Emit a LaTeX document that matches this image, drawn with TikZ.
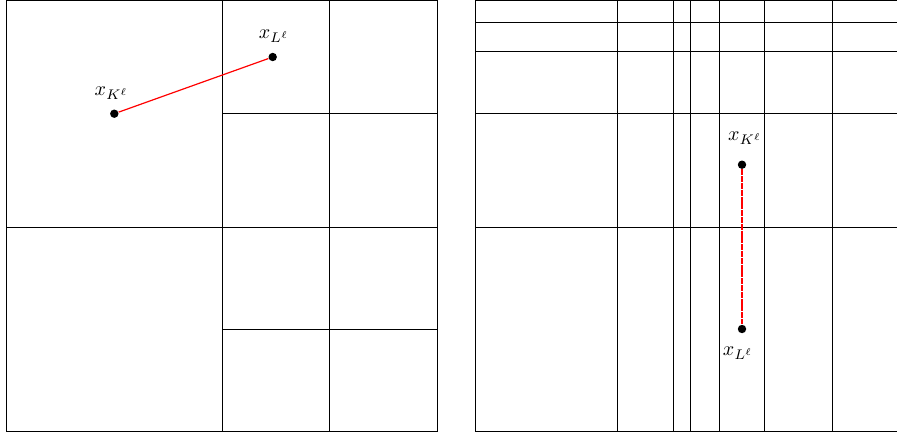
\documentclass[tikz,border=0pt]{standalone}
\begin{document}
\begin{tikzpicture}[x=0.5pt,y=-0.5pt,
  grid/.style={draw=black,line width=0.45pt},
  pt/.style={circle,fill=black,inner sep=0pt,minimum size=4.2pt},
  lbl/.style={inner sep=0pt,font=\normalsize},
  link/.style={draw=red,line width=0.6pt},
  dlink/.style={draw=red,line width=0.6pt,dash pattern=on 3pt off 0.4pt}]
\useasboundingbox (0,0) rectangle (897,434);
\clip (0,0) rectangle (897,434);
% left square
\draw[grid] (6.3,0.5) rectangle (437.3,431);
\draw[grid] (222,0.5) -- (222,431);
\draw[grid] (329.3,0.5) -- (329.3,431);
\draw[grid] (6.3,227.3) -- (437.3,227.3);
\draw[grid] (222,113.7) -- (437.3,113.7);
\draw[grid] (222,329) -- (437.3,329);
% right square
\draw[grid] (475.3,0.5) rectangle (906.3,431);
\foreach \xx in {617.3,673.3,690.7,719.3,764.3,832.3}
  \draw[grid] (\xx,0.5) -- (\xx,431);
\foreach \yy in {22.7,51.3,113.7,227.3}
  \draw[grid] (475.3,\yy) -- (906.3,\yy);
% points
\node[pt] (K1) at (114.3,113.7) {};
\node[pt] (L1) at (272.7,57) {};
\node[pt] (K2) at (742,164.7) {};
\node[pt] (L2) at (742,329) {};
\draw[link] (K1) -- (L1);
\draw[dlink] (K2) -- (L2);
\node[lbl] (tK1) at (111.5,93) {$x_{K^\ell}$};
\node[lbl] (tL1) at (274,36) {$x_{L^\ell}$};
\node[lbl] (tK2) at (745,138) {$x_{K^\ell}$};
\node[lbl] (tL2) at (738,353) {$x_{L^\ell}$};
\end{tikzpicture}
\end{document}
